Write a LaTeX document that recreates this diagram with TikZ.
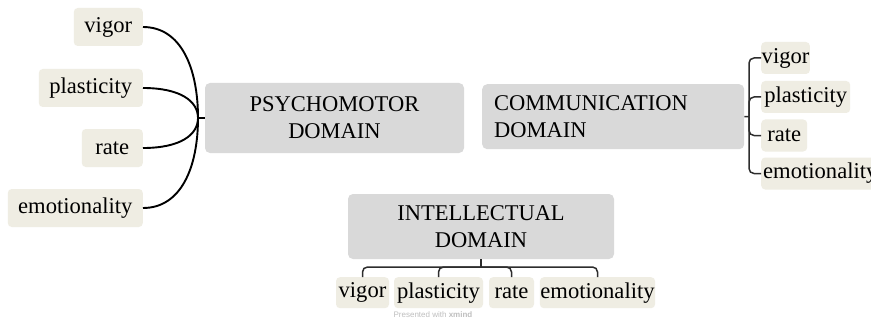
\documentclass[tikz,border=0pt]{standalone}
\usepackage{fontspec}
\setmainfont{Liberation Serif}
\newfontfamily\wmfont{Liberation Sans}
\usetikzlibrary{calc}
\begin{document}
\begin{tikzpicture}[x=1pt,y=-1pt,
  leafbox/.style={fill=leaffill,rounded corners=4pt,font=\fontsize{22.6}{25}\selectfont,inner xsep=0.5pt,inner ysep=0pt},
  domainbox/.style={fill=domfill,rounded corners=5pt,font=\fontsize{22.5}{27}\selectfont,inner sep=0pt},
  curvelink/.style={line width=1.9pt,black},
  bracketlink/.style={line width=1.5pt,linkgray,rounded corners=5pt},
  stublink/.style={line width=1.5pt,linkgray}]
\definecolor{leaffill}{RGB}{239,237,227}
\definecolor{domfill}{RGB}{217,217,217}
\definecolor{linkgray}{RGB}{45,45,45}
\clip (0,0) rectangle (871,329);
\fill[white] (0,0) rectangle (871,329);

% Psychomotor
\node[domainbox,minimum width=259pt,minimum height=70pt,align=center] (psy) at (334.5,118) {PSYCHOMOTOR\\DOMAIN};
\node[leafbox,anchor=east,minimum height=38pt,minimum width=69pt] (pv) at (143,27) {vigor};
\node[leafbox,anchor=east,minimum height=38pt,minimum width=104pt] (pp) at (143,88) {plasticity};
\node[leafbox,anchor=east,minimum height=38pt,minimum width=61pt] (pr) at (143,148) {rate};
\node[leafbox,anchor=east,minimum height=38pt,minimum width=135pt] (pe) at (143,208) {emotionality};
\coordinate (pj) at (198,118);
\draw[curvelink] (pj) -- (psy.west);
\foreach \n in {pv,pp,pr,pe}{
  \draw[curvelink] (\n.east) .. controls ([xshift=38pt]\n.east) and ($(pj)!0.55!(pj |- \n.east)$) .. (pj);
}

% Communication
\node[domainbox,anchor=north west,minimum width=262pt,minimum height=65pt,text width=238pt,align=left] (com) at (482,84) {COMMUNICATION\\DOMAIN};
\node[leafbox,anchor=west,minimum height=32pt,minimum width=44pt] (cv) at (761,58) {vigor};
\node[leafbox,anchor=west,minimum height=32pt,minimum width=89pt] (cp) at (761,97) {plasticity};
\node[leafbox,anchor=west,minimum height=32pt,minimum width=46pt] (cr) at (761,135.5) {rate};
\node[leafbox,anchor=west,minimum height=32pt,inner xsep=2pt] (ce) at (761,173.5) {emotionality};
\coordinate (cj) at (749,116.5);
\draw[stublink] (com.east) -- (cj);
\foreach \n in {cv,cp,cr,ce}{
  \draw[bracketlink] (cj) |- (\n.west);
}

% Intellectual
\node[domainbox,minimum width=266pt,minimum height=65pt,align=center] (int) at (481,226.5) {INTELLECTUAL\\DOMAIN};
\node[leafbox,anchor=north,minimum height=31pt,minimum width=53pt] (iv) at (362.5,277) {vigor};
\node[leafbox,anchor=north,minimum height=31pt,minimum width=89pt] (ip) at (438.5,277) {plasticity};
\node[leafbox,anchor=north,minimum height=31pt,minimum width=45pt] (ir) at (511.5,277) {rate};
\node[leafbox,anchor=north,minimum height=31pt,minimum width=115pt] (ie) at (597.5,277) {emotionality};
\coordinate (ij) at (481,267);
\draw[stublink] (int.south) -- (ij);
\foreach \n in {iv,ip,ir,ie}{
  \draw[bracketlink] (ij) -| (\n.north);
}

\node[font=\wmfont\fontsize{8}{9}\selectfont,text=black!25] (wm) at (433,315) {Presented with \textbf{xmind}};
\end{tikzpicture}
\end{document}
